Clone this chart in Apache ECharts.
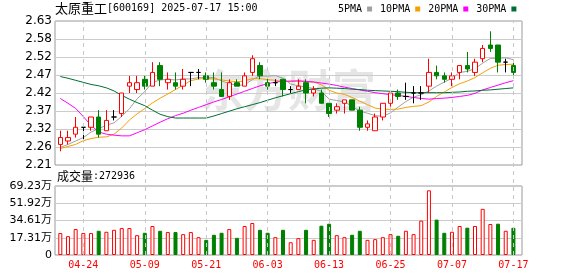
<!DOCTYPE html>
<html><head><meta charset="utf-8">
<script src="https://cdn.jsdelivr.net/npm/echarts@6/dist/echarts.min.js"></script>
<style>html,body{margin:0;padding:0;background:#fff}#c{width:578px;height:276px}</style>
</head><body><div id="c"></div>
<script>
const dates = ['04-21','04-22','04-23','04-24','04-25','04-28','04-29','04-30','05-06','05-07','05-08','05-09','05-12','05-13','05-14','05-15','05-16','05-19','05-20','05-21','05-22','05-23','05-26','05-27','05-28','05-29','05-30','06-03','06-04','06-05','06-06','06-09','06-10','06-11','06-12','06-13','06-16','06-17','06-18','06-19','06-20','06-23','06-24','06-25','06-26','06-27','06-30','07-01','07-02','07-03','07-04','07-07','07-08','07-09','07-10','07-11','07-14','07-15','07-16','07-17'];
const opens  = [2.27,2.28,2.30,2.32,2.32,2.35,2.31,2.35,2.36,2.44,2.43,2.46,2.44,2.50,2.45,2.45,2.44,2.48,2.48,2.47,2.45,2.43,2.41,2.45,2.44,2.48,2.50,2.45,2.45,2.46,2.43,2.43,2.45,2.42,2.42,2.39,2.37,2.39,2.40,2.37,2.32,2.31,2.35,2.39,2.42,2.41,2.42,2.42,2.44,2.48,2.47,2.46,2.48,2.50,2.48,2.52,2.56,2.56,2.51,2.50];
const closes = [2.29,2.29,2.32,2.32,2.35,2.30,2.34,2.35,2.42,2.45,2.45,2.44,2.48,2.46,2.46,2.44,2.46,2.48,2.48,2.46,2.44,2.41,2.45,2.44,2.47,2.52,2.47,2.44,2.45,2.43,2.43,2.44,2.42,2.43,2.39,2.36,2.38,2.40,2.37,2.32,2.33,2.35,2.39,2.42,2.41,2.41,2.42,2.42,2.48,2.47,2.46,2.47,2.50,2.49,2.51,2.55,2.55,2.51,2.51,2.48];
const lows   = [2.25,2.27,2.29,2.28,2.31,2.29,2.31,2.34,2.35,2.42,2.42,2.43,2.44,2.44,2.43,2.43,2.43,2.44,2.46,2.45,2.43,2.41,2.40,2.44,2.44,2.47,2.46,2.43,2.44,2.41,2.42,2.43,2.39,2.41,2.39,2.35,2.36,2.36,2.37,2.31,2.31,2.31,2.34,2.38,2.40,2.40,2.39,2.40,2.42,2.46,2.45,2.44,2.46,2.48,2.47,2.51,2.54,2.48,2.48,2.47];
const highs  = [2.31,2.31,2.35,2.33,2.35,2.37,2.37,2.37,2.42,2.47,2.47,2.47,2.51,2.51,2.48,2.48,2.49,2.48,2.49,2.48,2.48,2.48,2.46,2.46,2.48,2.53,2.51,2.47,2.46,2.46,2.44,2.46,2.46,2.44,2.43,2.39,2.39,2.40,2.40,2.38,2.34,2.36,2.39,2.42,2.43,2.45,2.44,2.44,2.52,2.50,2.48,2.48,2.50,2.54,2.52,2.56,2.60,2.56,2.52,2.51];
const blackDoji = [3,18,30,45,47,58];
const volumes = [220000,189000,260000,220000,220000,243000,233000,253000,270000,270000,199000,223000,291000,243000,230000,230000,209000,230000,179000,152000,203000,223000,260000,172000,291000,321000,253000,223000,179000,253000,128000,169000,253000,152000,294000,314000,199000,179000,203000,243000,152000,159000,179000,209000,193000,243000,209000,345000,649000,355000,223000,233000,291000,274000,291000,463000,311000,314000,243000,272936];
const volRise = [1,1,1,1,1,0,1,1,1,1,1,0,1,0,1,0,1,1,1,0,0,0,1,0,1,1,0,0,1,0,1,1,0,1,0,0,1,1,0,0,1,1,1,1,0,1,1,1,1,0,0,1,1,0,1,1,1,0,1,0];
const ma5  = [2.261,2.270,2.280,2.290,2.306,2.316,2.326,2.333,2.352,2.374,2.403,2.424,2.451,2.458,2.460,2.458,2.461,2.461,2.465,2.465,2.465,2.455,2.448,2.442,2.444,2.459,2.470,2.469,2.471,2.463,2.446,2.441,2.437,2.433,2.425,2.402,2.398,2.394,2.381,2.367,2.361,2.354,2.352,2.362,2.379,2.395,2.408,2.415,2.426,2.440,2.452,2.463,2.480,2.483,2.491,2.507,2.521,2.521,2.523,2.517];
const ma10 = [2.258,2.264,2.270,2.281,2.287,2.291,2.292,2.300,2.318,2.341,2.359,2.375,2.391,2.405,2.417,2.430,2.443,2.456,2.461,2.462,2.461,2.458,2.455,2.453,2.455,2.462,2.462,2.459,2.457,2.454,2.453,2.456,2.453,2.452,2.444,2.428,2.420,2.416,2.407,2.396,2.386,2.376,2.373,2.372,2.373,2.378,2.381,2.383,2.394,2.410,2.423,2.436,2.447,2.455,2.465,2.479,2.492,2.501,2.503,2.504];
const ma20 = [2.404,2.390,2.375,2.351,2.326,2.306,2.300,2.297,2.295,2.295,2.304,2.313,2.324,2.335,2.345,2.354,2.361,2.370,2.378,2.386,2.394,2.401,2.409,2.417,2.425,2.433,2.441,2.447,2.452,2.454,2.455,2.455,2.454,2.452,2.449,2.446,2.442,2.437,2.433,2.429,2.425,2.421,2.418,2.415,2.413,2.410,2.407,2.404,2.402,2.404,2.405,2.407,2.410,2.413,2.419,2.429,2.436,2.443,2.450,2.456];
const ma30 = [2.468,2.463,2.457,2.451,2.445,2.441,2.435,2.426,2.413,2.402,2.392,2.383,2.370,2.358,2.351,2.347,2.347,2.347,2.347,2.347,2.353,2.360,2.367,2.374,2.380,2.386,2.392,2.399,2.406,2.412,2.418,2.424,2.429,2.432,2.434,2.435,2.434,2.433,2.431,2.430,2.428,2.427,2.426,2.425,2.424,2.422,2.421,2.421,2.421,2.421,2.421,2.422,2.423,2.425,2.426,2.428,2.429,2.431,2.433,2.435];
const priceTicks = [2.21,2.2625,2.315,2.3675,2.42,2.4725,2.525,2.5775,2.63];
const priceTickLabels = ['2.21','2.26','2.32','2.37','2.42','2.47','2.52','2.58','2.63'];
const volTicks = [0,173075,346150,519225,692300];
const volTickLabels = ['0','17.31万','34.61万','51.92万','69.23万'];
const xTickIdx = [3,11,19,27,35,43,51,59];
const maNames = ['5PMA','10PMA','20PMA','30PMA'];
const lastVolume = '272936';

const RED = '#ff0000', GREEN = '#008000';
const maColors = ['#a0a0a0','#f5a000','#ff00ff','#006f33'];
const X_MIN = -0.69, X_MAX = 60.12;

const kData = opens.map((o, i) => {
  const item = { value: [i, o, closes[i], lows[i], highs[i]] };
  if (blackDoji.indexOf(i) >= 0) item.itemStyle = { borderColor: '#000', borderColor0: '#000', color: '#000', color0: '#000' };
  return item;
});
const volData = volumes.map((v, i) => ({
  value: [i, v],
  itemStyle: volRise[i] ? { color: '#fff', borderColor: RED, borderWidth: 1 } : { color: GREEN, borderColor: GREEN, borderWidth: 1 }
}));
const maSeries = [ma5, ma10, ma20, ma30].map((arr, k) => ({
  name: maNames[k], type: 'line', xAxisIndex: 0, yAxisIndex: 0,
  data: arr.map((v, i) => [i, v]), showSymbol: false, symbol: 'none',
  lineStyle: { width: 1, color: maColors[k] }, itemStyle: { color: maColors[k] }, z: 3
}));

const mkX = (gi, extra) => Object.assign({
  type: 'value', gridIndex: gi, min: X_MIN, max: X_MAX,
  axisLine: { show: false }, axisTick: { show: false }, axisLabel: { show: false }, splitLine: { show: false }
}, extra || {});
const numFont = 'DejaVu Sans, Noto Sans CJK SC, sans-serif';
const monoFont = 'DejaVu Sans Mono, monospace';

const chart = echarts.init(document.getElementById('c'), null, { renderer: 'canvas' });
chart.setOption({
  animation: false,
  backgroundColor: '#fff',
  title: [
    { text: '{a|太原重工}{b|[600169] 2025-07-17 15:00}', left: 55, top: 2, padding: 0,
      textStyle: { fontWeight: 'normal', rich: { a: { fontFamily: 'Noto Sans CJK SC', fontSize: 13, fontWeight: 'normal', color: '#000' }, b: { fontFamily: monoFont, fontSize: 10, fontWeight: 'normal', color: '#000' } } } },
    { text: '{a|成交量}{b|:' + lastVolume + '}', left: 57, top: 170, padding: 0,
      textStyle: { fontWeight: 'normal', rich: { a: { fontFamily: 'Noto Sans CJK SC', fontSize: 12, fontWeight: 'normal', color: '#000' }, b: { fontFamily: monoFont, fontSize: 10, fontWeight: 'normal', color: '#000' } } } }
  ],
  legend: {
    data: maNames, left: 338, top: 4, padding: 0, itemWidth: 5, itemHeight: 5, itemGap: 8, align: 'right', icon: 'rect',
    textStyle: { fontFamily: monoFont, fontSize: 10, color: '#000' }, selectedMode: false
  },
  graphic: [{ type: 'text', left: 200, top: 68, z: -10, silent: true,
    style: { text: '东方财富', font: 'bold 44px "Noto Sans CJK SC"', fill: 'rgba(0,0,0,0.1)' } }],
  grid: [
    { left: 55, right: 56, top: 21, height: 144, show: true, borderColor: '#999', borderWidth: 1, backgroundColor: 'transparent' },
    { left: 55, right: 56, top: 186, height: 69, show: true, borderColor: '#999', borderWidth: 1, backgroundColor: 'transparent' },
    { left: 55, right: 56, top: 21, height: 234, show: false }
  ],
  xAxis: [
    mkX(0),
    mkX(1, { axisLabel: { show: true, customValues: xTickIdx, margin: 5, color: RED, fontFamily: monoFont, fontSize: 10,
      formatter: v => dates[Math.round(v)] } }),
    mkX(2)
  ],
  yAxis: [
    { type: 'value', gridIndex: 0, min: 2.21, max: 2.63, axisLine: { show: false },
      axisTick: { show: false, customValues: priceTicks },
      axisLabel: { customValues: priceTicks, margin: 3, color: '#000', fontFamily: numFont, fontSize: 12,
        formatter: v => { let b = 0; priceTicks.forEach((t, i) => { if (Math.abs(t - v) < Math.abs(priceTicks[b] - v)) b = i; }); return priceTickLabels[b]; } },
      splitLine: { show: true, lineStyle: { color: '#cccccc', width: 1 } } },
    { type: 'value', gridIndex: 1, min: 0, max: 692300, axisLine: { show: false },
      axisTick: { show: false, customValues: volTicks },
      axisLabel: { customValues: volTicks, margin: 3, color: '#000', fontFamily: numFont, fontSize: 11,
        formatter: v => volTickLabels[Math.round(v / 173075)] },
      splitLine: { show: true, lineStyle: { color: '#cccccc', width: 1 } } },
    { type: 'value', gridIndex: 2, min: 0, max: 1, axisLine: { show: false }, axisTick: { show: false }, axisLabel: { show: false }, splitLine: { show: false } }
  ],
  series: [
    { type: 'line', xAxisIndex: 2, yAxisIndex: 2, data: [[X_MIN, -1]], showSymbol: false, symbol: 'none', silent: true, z: 0,
      lineStyle: { width: 0 },
      markLine: { silent: true, symbol: 'none', label: { show: false }, animation: false,
        lineStyle: { color: '#c8c8c8', type: [4, 4], width: 1 },
        data: xTickIdx.map(v => ({ xAxis: v })) } },
    { type: 'candlestick', xAxisIndex: 0, yAxisIndex: 0, data: kData, encode: { x: 0, y: [1, 2, 3, 4] }, barWidth: 5, z: 4,
      itemStyle: { color: '#fff', color0: GREEN, borderColor: RED, borderColor0: GREEN, borderColorDoji: '#000', borderWidth: 1 } },
    { type: 'bar', xAxisIndex: 1, yAxisIndex: 1, data: volData, barWidth: 4, encode: { x: 0, y: 1 }, z: 4 }
  ].concat(maSeries)
});
</script></body></html>
